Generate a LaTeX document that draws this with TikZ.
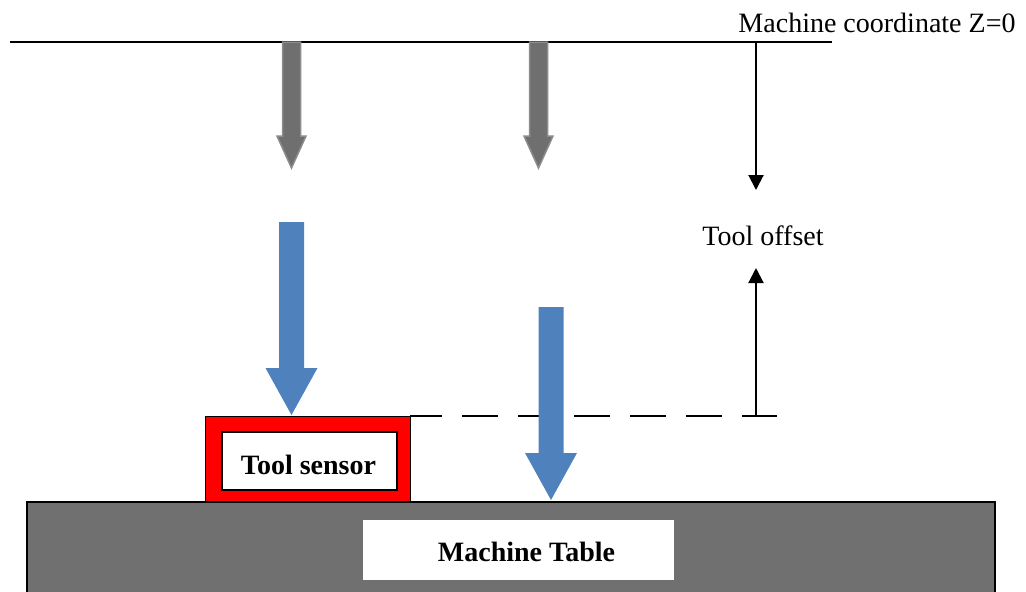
\documentclass[tikz,border=0pt]{standalone}
\usepackage{fontspec}
\setmainfont{Liberation Serif}
\usetikzlibrary{arrows.meta}

\definecolor{toolgray}{HTML}{6F6F6F}
\definecolor{toolrim}{HTML}{8C8C8C}
\definecolor{probeblue}{HTML}{4F81BD}
\definecolor{tablegray}{HTML}{707070}

\begin{document}
\begin{tikzpicture}[
    x=1pt, y=-1pt,
    font=\fontsize{28}{33}\selectfont,
    refline/.style={black, line width=2pt},
    dimline/.style={black, line width=2pt, -{Triangle[width=15pt,length=15pt]}},
    gapline/.style={black, line width=2pt, dash pattern=on 36pt off 20pt, dash phase=4pt},
    grayarrow/.style={fill=toolgray, draw=toolrim, line width=1.5pt},
    bluearrow/.style={fill=probeblue},
    sensorbox/.style={draw=black, fill=red, line width=1pt, inner sep=0pt, outer sep=0pt},
    whitebox/.style={draw=black, fill=white, line width=2pt, inner sep=0pt},
    tablebox/.style={draw=black, fill=tablegray, line width=2pt, inner sep=0pt, outer sep=0pt},
    lbl/.style={anchor=base, inner sep=0pt},
    boldlbl/.style={lbl, font=\fontsize{28}{33}\selectfont\bfseries}
]
\clip (0,0) rectangle (1026,592);

% ---------- machine table ----------
\node[tablebox, minimum width=968pt, minimum height=108pt] (table) at (511,556) {};
\node[fill=white, inner sep=0pt, minimum width=311pt, minimum height=60pt] (tablewin) at (518.5,550) {};
\node[boldlbl] (tablelbl) at (526.5,561) {Machine Table};

% ---------- tool sensor ----------
\node[sensorbox, minimum width=205pt, minimum height=85pt] (sensor) at (307.5,458.5) {};
\node[whitebox, minimum width=175pt, minimum height=58pt] (sensorin) at (309.5,461) {};
\node[boldlbl] (sensorlbl) at (308.5,474) {Tool sensor};

% ---------- sensor height ----------
\coordinate (gapend) at (777,416);
\draw[gapline] (sensor.north east) -- (gapend);

% ---------- blue tool arrows ----------
\foreach \cx/\top/\hy/\tip in {291.5/222/368/415, 551/307/453/500}
  \fill[bluearrow] (\cx-12.5,\top) -- (\cx-12.5,\hy) -- (\cx-26,\hy) -- (\cx,\tip)
    -- (\cx+26,\hy) -- (\cx+12.5,\hy) -- (\cx+12.5,\top) -- cycle;

% ---------- machine zero ----------
\coordinate (zleft) at (10,42);
\coordinate (zright) at (832,42);
\draw[refline] (zleft) -- (zright);
\node[lbl] (zlbl) at (877,32) {Machine coordinate Z=0};

% ---------- gray tool arrows ----------
\foreach \cx in {291.5,538.5}
  \draw[grayarrow] (\cx-9,42) -- (\cx-9,136) -- (\cx-14.5,136) -- (\cx,168)
    -- (\cx+14.5,136) -- (\cx+9,136) -- (\cx+9,42) -- cycle;

% ---------- tool offset ----------
\coordinate (ztop) at (756,42);
\coordinate (dntip) at (756,190);
\coordinate (upbase) at (756,416);
\coordinate (uptip) at (756,268);
\draw[dimline] (ztop) -- (dntip);
\draw[dimline] (upbase) -- (uptip);
\node[lbl] (offlbl) at (763,245) {Tool offset};

\end{tikzpicture}
\end{document}
